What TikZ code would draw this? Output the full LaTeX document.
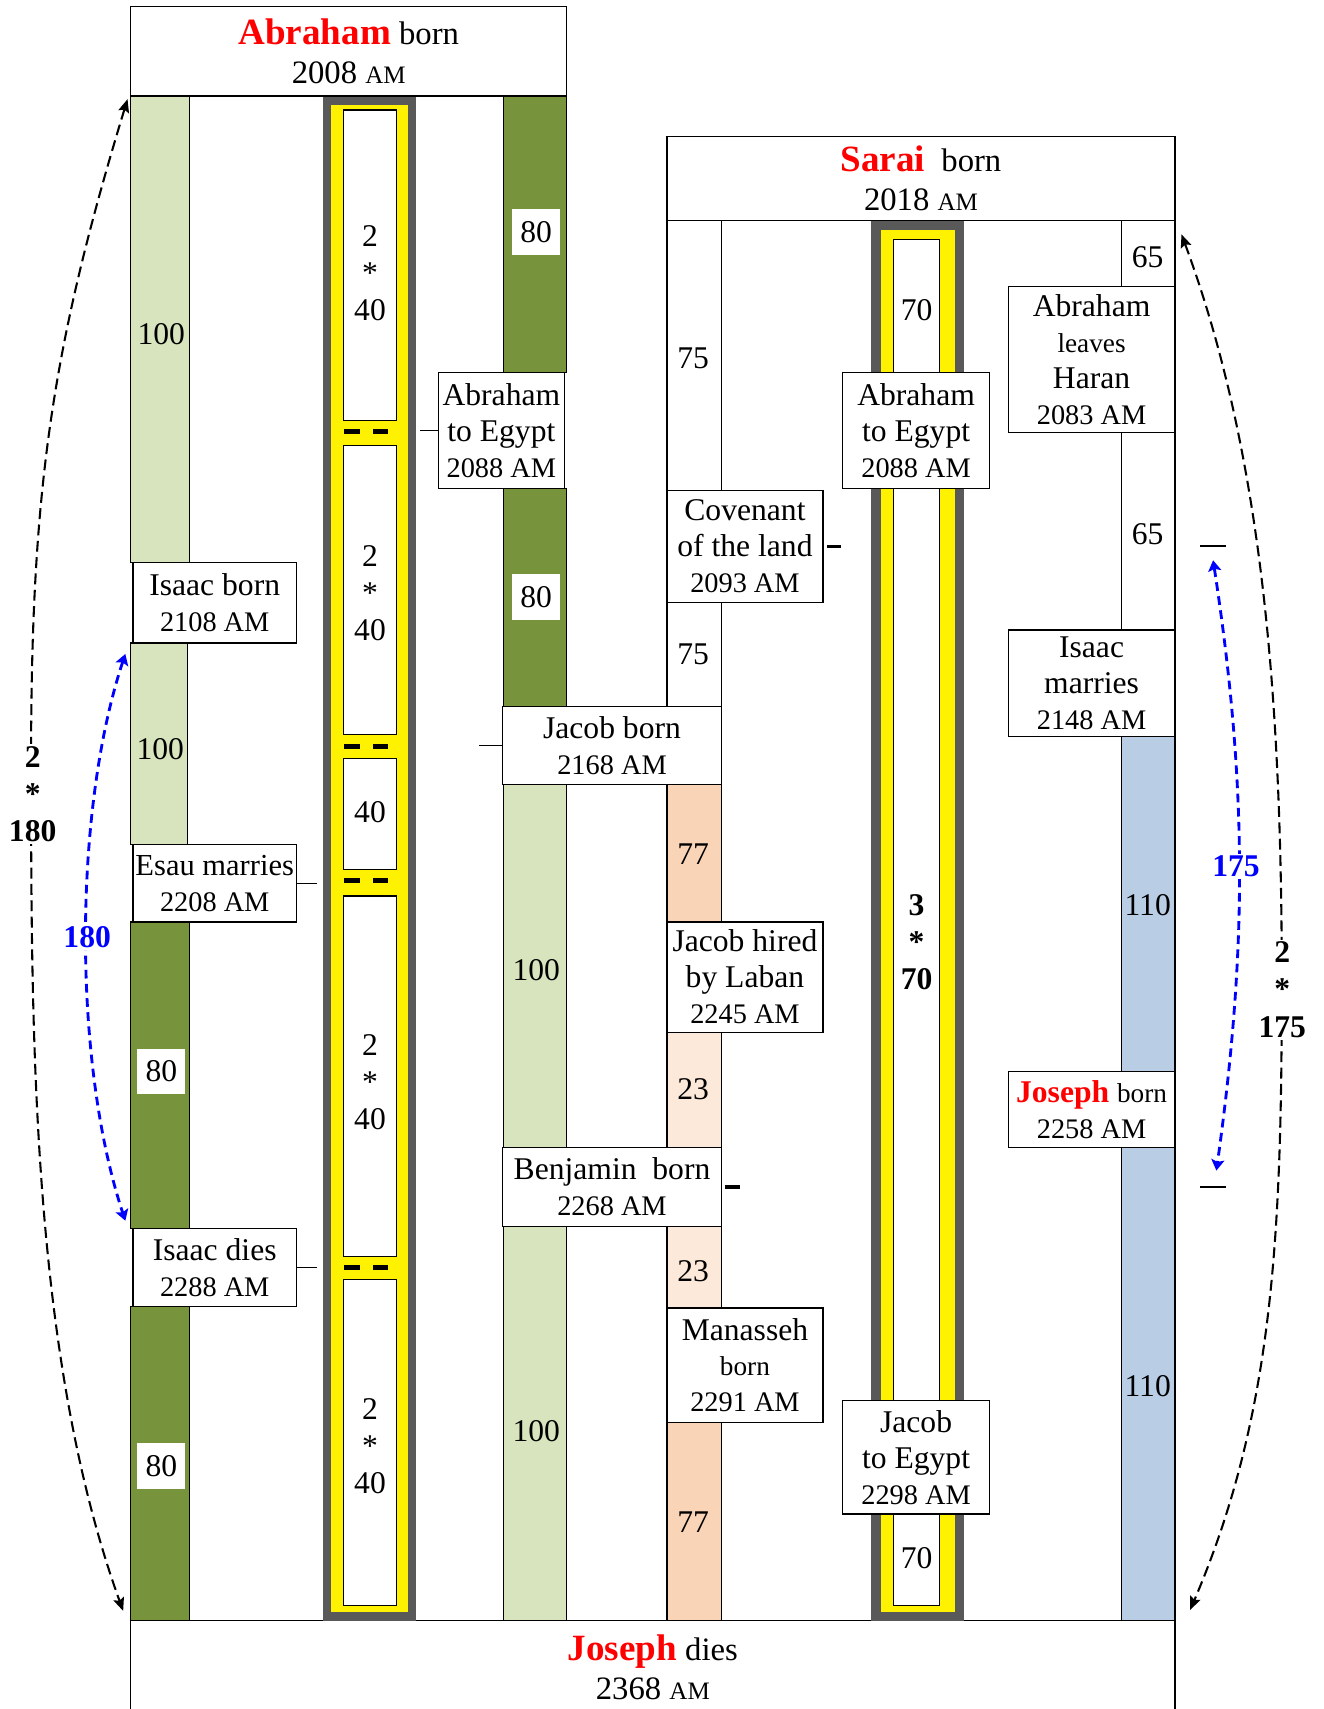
\documentclass[tikz,border=0pt]{standalone}
\usepackage{fontspec}
\setmainfont{Liberation Serif}
\usetikzlibrary{arrows.meta}
\definecolor{lgreen}{HTML}{D7E4BD}
\definecolor{dgreen}{HTML}{77933C}
\definecolor{pillargray}{HTML}{595959}
\definecolor{peach}{HTML}{FAD4B6}
\definecolor{lpeach}{HTML}{FCE9DA}
\definecolor{lblue}{HTML}{B9CDE5}
\definecolor{tblue}{HTML}{0000FF}
\newcommand{\smallam}{{\fontsize{23}{23}\selectfont AM}}
\newcommand{\dte}[1]{{\fontsize{26}{33}\selectfont #1}}
\newcommand{\smw}[1]{{\fontsize{25}{33}\selectfont #1}}
\newcommand{\redname}[2]{{\fontsize{#1}{36}\selectfont\bfseries\color{red}#2}}
\tikzset{
  seg/.style={draw, line width=1.1pt},
  inbox/.style={draw, line width=1.3pt, fill=white},
  evbox/.style={draw, line width=1.2pt, fill=white, inner sep=0pt, align=center,
    font=\fontsize{29}{33}\selectfont},
  hdrbox/.style={draw, line width=1.2pt, fill=white, inner sep=0pt, align=center,
    font=\fontsize{30}{36}\selectfont},
  num/.style={inner sep=0pt, font=\fontsize{29}{34}\selectfont},
  numbox/.style={fill=white, inner sep=0pt, minimum width=44pt, minimum height=42pt,
    font=\fontsize{29}{34}\selectfont},
  stack/.style={inner sep=0pt, align=center, font=\fontsize{29}{34}\selectfont},
  bstack/.style={inner sep=2pt, align=center, fill=white, font=\fontsize{29}{34}\selectfont\bfseries},
  tick/.style={line width=1.2pt},
  thicktick/.style={line width=3pt},
  pdash/.style={line width=4pt},
  blackarc/.style={line width=1.9pt, dash pattern=on 10pt off 5pt,
    {Stealth[length=12pt,width=10pt,inset=2pt]}-{Stealth[length=12pt,width=10pt,inset=2pt]}},
  bluearc/.style={tblue, line width=2.6pt, dash pattern=on 8pt off 5pt,
    {Stealth[length=10pt,width=12pt,inset=2pt]}-{Stealth[length=10pt,width=12pt,inset=2pt]}},
}
\begin{document}
\begin{tikzpicture}[x=1pt,y=-1pt]
\useasboundingbox (0,0) rectangle (1214,1568);
\fill[white] (0,0) rectangle (1214,1568);

% bottom box outline (open at the page bottom)
\draw[line width=1.2pt] (120,1568) -- (120,1487) -- (1078,1487) -- (1078,1568);

% column 1
\draw[seg,fill=lgreen] (120,88) rectangle (174,516);
\draw[seg,fill=lgreen] (120,590) rectangle (172,775);
\draw[seg,fill=dgreen] (120,846) rectangle (174,1127);
\draw[seg,fill=dgreen] (120,1199) rectangle (174,1487);
\node[num] (c1a) at (148,307) {100};
\node[num] (c1b) at (147,687) {100};
\node[numbox] (c1c) at (148,983) {80};
\node[numbox] (c1d) at (148,1345) {80};

% column 3
\draw[seg,fill=dgreen] (462,88) rectangle (520,342);
\draw[seg,fill=dgreen] (462,448) rectangle (520,648);
\draw[seg,fill=lgreen] (462,720) rectangle (520,1053);
\draw[seg,fill=lgreen] (462,1125) rectangle (520,1487);
\node[numbox] (c3a) at (492,213) {80};
\node[numbox] (c3b) at (492,548) {80};
\node[num] (c3c) at (492,890) {100};
\node[num] (c3d) at (492,1313) {100};

% column 4
\draw[seg,fill=white] (612,202) rectangle (662,450);
\draw[seg,fill=white] (612,553) rectangle (662,648);
\draw[seg,fill=peach] (612,720) rectangle (662,846);
\draw[seg,fill=lpeach] (612,947) rectangle (662,1053);
\draw[seg,fill=lpeach] (612,1125) rectangle (662,1200);
\draw[seg,fill=peach] (612,1305) rectangle (662,1487);
\node[num] (c4a) at (636,329) {75};
\node[num] (c4b) at (636,600) {75};
\node[num] (c4c) at (636,784) {77};
\node[num] (c4d) at (636,999) {23};
\node[num] (c4e) at (636,1166) {23};
\node[num] (c4f) at (636,1397) {77};

% column 6
\draw[seg,fill=white] (1029,202) rectangle (1078,263);
\draw[seg,fill=white] (1029,397) rectangle (1078,578);
\draw[seg,fill=lblue] (1029,676) rectangle (1078,983);
\draw[seg,fill=lblue] (1029,1053) rectangle (1078,1487);
\node[num] (c6a) at (1053,236) {65};
\node[num] (c6b) at (1053,490) {65};
\node[num] (c6c) at (1053,830) {110};
\node[num] (c6d) at (1053,1272) {110};

% left pillar
\fill[pillargray] (296,88) rectangle (382,1487);
\fill[yellow] (304,96) rectangle (374,1479);
\draw[inbox] (315,101) rectangle (364,386);
\draw[inbox] (315,409) rectangle (364,674);
\draw[inbox] (315,696) rectangle (364,798);
\draw[inbox] (315,822) rectangle (364,1153);
\draw[inbox] (315,1174) rectangle (364,1473);
\foreach \yy in {396,685,808,1163}{
  \draw[pdash] (316,\yy) -- (330,\yy) (342,\yy) -- (356,\yy);
}
\node[stack] (p1) at (339.5,250.5) {2\\*\\40};
\node[stack] (p2) at (339.5,544.5) {2\\*\\40};
\node[num] (p3) at (339.5,745) {40};
\node[stack] (p4) at (339.5,992.5) {2\\*\\40};
\node[stack] (p5) at (339.5,1326.5) {2\\*\\40};

% right pillar
\fill[pillargray] (799,202) rectangle (884,1487);
\fill[yellow] (808,211) rectangle (876,1479);
\draw[inbox] (820,220) rectangle (862,1473);
\node[num] (r1) at (841,285) {70};
\node[stack, font=\fontsize{29}{34}\selectfont\bfseries] (r2) at (841,864.5) {3\\*\\70};
\node[num] (r3) at (841,1430) {70};

% header boxes
\node[hdrbox, minimum width=400pt, minimum height=82pt] (abraham) at (320,47)
  {\redname{34}{Abraham} born\\2008 \smallam};
\node[hdrbox, minimum width=466pt, minimum height=77pt] (sarai) at (845,163.5)
  {\redname{34}{Sarai}\ \ born\\2018 \smallam};
\node[align=center, inner sep=0pt, font=\fontsize{30}{36}\selectfont] (josephdies) at (599,1530)
  {\redname{34}{Joseph} dies\\2368 \smallam};

% event boxes
\node[evbox, minimum width=150pt, minimum height=74pt] (isaacborn) at (197,553)
  {Isaac born\\\dte{2108 AM}};
\node[evbox, minimum width=150pt, minimum height=71pt, font=\fontsize{28}{33}\selectfont] (esau) at (197,810.5)
  {Esau marries\\\dte{2208 AM}};
\node[evbox, minimum width=150pt, minimum height=72pt] (isaacdies) at (197,1163)
  {Isaac dies\\\dte{2288 AM}};
\node[evbox, minimum width=116pt, minimum height=106pt] (abegL) at (460,395)
  {Abraham\\to Egypt\\\dte{2088 AM}};
\node[evbox, minimum width=201pt, minimum height=72pt] (jacobborn) at (561.5,684)
  {Jacob born\\\dte{2168 AM}};
\node[evbox, minimum width=201pt, minimum height=72pt] (benjamin) at (561.5,1089)
  {Benjamin\ \ born\\\dte{2268 AM}};
\node[evbox, minimum width=143pt, minimum height=103pt] (covenant) at (683.5,501.5)
  {Covenant\\of the land\\\dte{2093 AM}};
\node[evbox, minimum width=143pt, minimum height=101pt] (jacobhired) at (683.5,896.5)
  {Jacob hired\\by Laban\\\dte{2245 AM}};
\node[evbox, minimum width=143pt, minimum height=105pt] (manasseh) at (683.5,1252.5)
  {Manasseh\\\smw{born}\\\dte{2291 AM}};
\node[evbox, minimum width=135pt, minimum height=106pt] (abegR) at (840.5,395)
  {Abraham\\to Egypt\\\dte{2088 AM}};
\node[evbox, minimum width=135pt, minimum height=104pt] (jacobegypt) at (840.5,1337)
  {Jacob\\to Egypt\\\dte{2298 AM}};
\node[evbox, minimum width=153pt, minimum height=134pt] (haran) at (1001.5,330)
  {Abraham\\\smw{leaves}\\Haran\\\dte{2083 AM}};
\node[evbox, minimum width=153pt, minimum height=98pt] (isaacmarries) at (1001.5,627)
  {Isaac\\marries\\\dte{2148 AM}};
\node[evbox, minimum width=153pt, minimum height=70pt] (josephborn) at (1001.5,1018)
  {\redname{29}{Joseph} \smw{born}\\\dte{2258 AM}};

% ticks
\draw[tick] (abegL.west) -- ++(-16,0);
\draw[tick] (jacobborn.west) -- ++(-21,0);
\draw[tick] (esau.east) -- ++(18,0);
\draw[tick] (isaacdies.east) -- ++(18,0);
\draw[thicktick] ([xshift=3pt]covenant.east) -- ++(13,0);
\draw[thicktick] ([xshift=3pt]benjamin.east) -- ++(13,0);

% right markers
\draw[tick] (1101,501) -- (1125,501);
\draw[tick] (1101,1089) -- (1125,1089);

% left black arc (2*180)
\coordinate (la1) at (117,91);
\coordinate (lam) at (28.5,700);
\coordinate (la2) at (113,1478);
\draw[blackarc] (la1) .. controls (47,321) and (28.5,450) .. (lam)
  .. controls (28.5,960) and (30,1248) .. (la2);
\node[bstack] (lbl180a) at (30,728.5) {2\\*\\180};

% left blue arc (180)
\coordinate (lb1) at (115,600);
\coordinate (lb2) at (115,1120);
\draw[bluearc] (lb1) .. controls (67,745) and (67,975) .. (lb2);
\node[bstack, text=tblue] (lbl180b) at (80,860) {180};

% right black arc (2*175)
\coordinate (ra1) at (1084,215);
\coordinate (ram) at (1176,900);
\coordinate (ra2) at (1092,1477);
\draw[blackarc] (ra1) .. controls (1158,415) and (1176,640) .. (ram)
  .. controls (1176,1130) and (1169,1297) .. (ra2);
\node[bstack] (lbl175a) at (1176.5,908) {2\\*\\175};

% right blue arc (175)
\coordinate (rb1) at (1113,514);
\coordinate (rb2) at (1116,1074);
\draw[bluearc] (rb1) .. controls (1144.5,720) and (1144.5,870) .. (rb2);
\node[bstack, text=tblue] (lbl175b) at (1134,795) {175};
\end{tikzpicture}
\end{document}
